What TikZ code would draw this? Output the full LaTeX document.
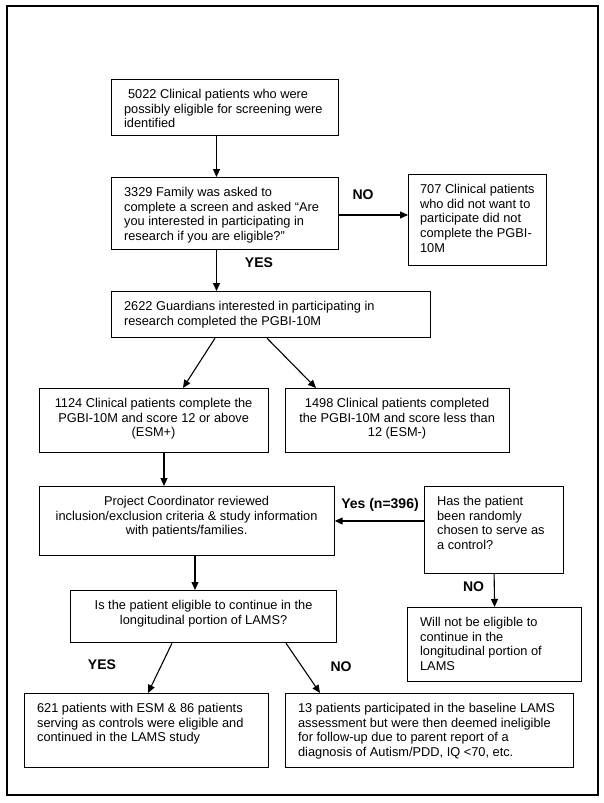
\documentclass[tikz,border=0pt]{standalone}
\usepackage{fontspec}
\setmainfont{Liberation Sans}
\usetikzlibrary{arrows.meta}

% text of a box: width, height, lines
\newcommand{\lbox}[3]{\parbox[c][#2pt][t]{#1pt}{\raggedright\vspace*{8.5pt}\strut #3}}
\newcommand{\cbox}[3]{\parbox[c][#2pt][t]{#1pt}{\centering\vspace*{8.5pt}\strut #3}}

\tikzset{
  box/.style={draw, line width=1.2pt, anchor=north west, inner xsep=12.5pt, inner ysep=0pt,
    font=\fontsize{12.8}{14.7}\selectfont},
  lbl/.style={font=\fontsize{14}{16}\selectfont\bfseries},
  flow/.style={->, line width=1.1pt}
}

\begin{document}
\begin{tikzpicture}[x=1pt, y=-1pt, >={Triangle[length=8pt,width=7pt]}]
\useasboundingbox (0,0) rectangle (603,803);
\draw[line width=1.4pt] (7,6) rectangle (598,795);

% boxes
\node[box] (b5022) at (111,79) {\lbox{201.5}{56}{\hspace{4pt}5022 Clinical patients who were\\ possibly eligible for screening were\\ identified}};
\node[box] (b3329) at (111,177) {\lbox{201.5}{72}{3329 Family was asked to\\ complete a screen and asked “Are\\ you interested in participating in\\ research if you are eligible?”}};
\node[box, inner xsep=11.5pt] (b707) at (408,174) {\lbox{115}{91}{707 Clinical patients\\ who did not want to\\ participate did not\\ complete the PGBI-\\ 10M}};
\node[box] (b2622) at (111,291) {\lbox{294}{46}{2622 Guardians interested in participating in\\ research completed the PGBI-10M}};
\node[box] (b1124) at (38.5,388) {\cbox{204}{64}{1124 Clinical patients complete the\\ PGBI-10M and score 12 or above\\ (ESM+)}};
\node[box] (b1498) at (284.5,388) {\cbox{199}{64}{1498 Clinical patients completed\\ the PGBI-10M and score less than\\ 12 (ESM-)}};
\node[box] (bPC) at (38.5,486) {\cbox{270}{69}{Project Coordinator reviewed\\ inclusion/exclusion criteria \& study information\\ with patients/families.}};
\node[box] (bHas) at (424,486) {\lbox{114}{87}{Has the patient\\ been randomly\\ chosen to serve as\\ a control?}};
\node[box] (bQ) at (70,590) {\cbox{241}{52}{Is the patient eligible to continue in the\\ longitudinal portion of LAMS?}};
\node[box] (bWill) at (407,607) {\lbox{149}{74}{Will not be eligible to\\ continue in the\\ longitudinal portion of\\ LAMS}};
\node[box] (bYes) at (24,693) {\lbox{219}{74}{621 patients with ESM \& 86 patients\\ serving as controls were eligible and\\ continued in the LAMS study}};
\node[box] (bNo) at (285,693) {\lbox{263}{74}{13 patients participated in the baseline LAMS\\ assessment but were then deemed ineligible\\ for follow-up due to parent report of a\\ diagnosis of Autism/PDD, IQ <70, etc.}};

% labels
\node[lbl] (lno1) at (363,195) {NO};
\node[lbl] (lyes1) at (259,263) {YES};
\node[lbl] (lyes2) at (380,505) {Yes (n=396)};
\node[lbl] (lno2) at (473.5,587) {NO};
\node[lbl] (lyes3) at (102,665) {YES};
\node[lbl] (lno3) at (341,667) {NO};

% arrows
\draw[flow] (b5022.south -| 216.5,0) -- (b3329.north -| 216.5,0);
\draw[flow] (b3329.east |- 0,215) -- (b707.west |- 0,215);
\draw[flow] (b3329.south -| 216.5,0) -- (b2622.north -| 216.5,0);
\draw[flow] (b2622.south -| 215,0) -- (b1124.north -| 183,0);
\draw[flow] (b2622.south -| 267,0) -- (b1498.north -| 316,0);
\draw[flow] (b1124.south -| 164,0) -- (bPC.north -| 164,0);
\draw[flow] (bHas.west |- 0,521) -- (bPC.east |- 0,521);
\draw[flow] (bPC.south -| 195,0) -- (bQ.north -| 195,0);
\draw[flow] (bHas.south) -- (bWill.north);
\draw[flow] (bQ.south -| 172,0) -- (bYes.north -| 148,0);
\draw[flow] (bQ.south -| 286,0) -- (bNo.north -| 320,0);
\end{tikzpicture}
\end{document}
